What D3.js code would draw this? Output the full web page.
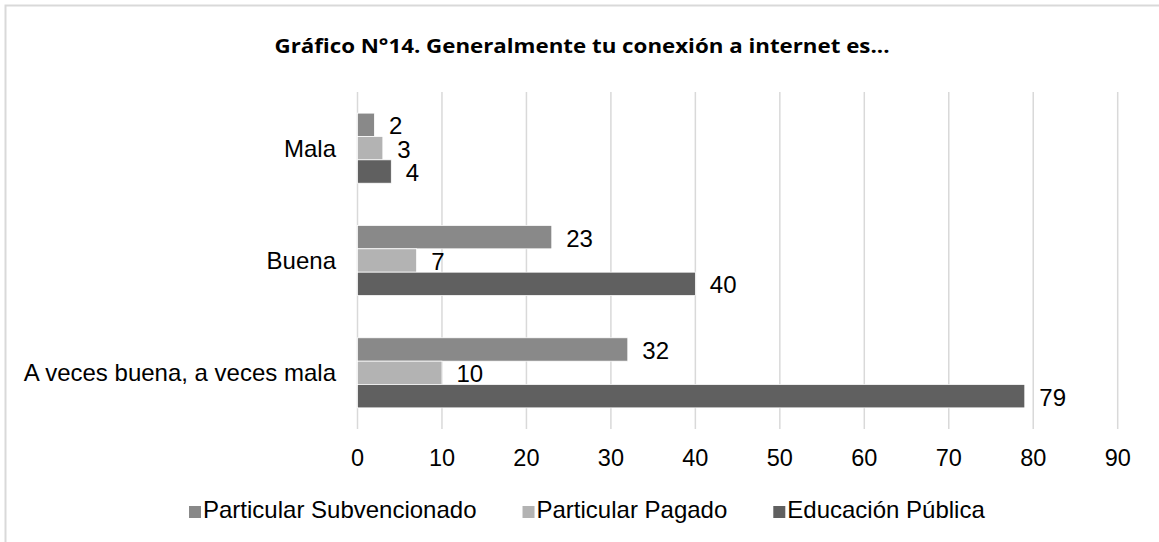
<!DOCTYPE html>
<html lang="es">
<head>
<meta charset="utf-8">
<style>
  body { margin: 0; background: #fff; }
  svg { display: block; background: #fff; font-family: 'Liberation Sans', Arial, sans-serif; }
  .grid line { stroke: #d9d9d9; stroke-width: 1.5px; }
  .lbl { font-size: 24px; fill: #000; }
  .tick { font-size: 23.5px; fill: #000; }
  .title { font-family: 'Open Sans', sans-serif; font-weight: bold; font-size: 19.5px; fill: #000; }
</style>
</head>
<body>
<svg width="1159" height="542"></svg>
<script src="https://d3js.org/d3.v7.min.js"></script>
<script>
// categories, top to bottom
const categories = ["Mala", "Buena", "A veces buena, a veces mala"];
const seriesNames = ["Particular Subvencionado", "Particular Pagado", "Educación Pública"];
const subvencionado = [2, 23, 32];
const pagado = [3, 7, 10];
const publica = [4, 40, 79];
const xTicks = [0, 10, 20, 30, 40, 50, 60, 70, 80, 90];
const colors = ["#898989", "#b3b3b3", "#606060"];

const values = [subvencionado, pagado, publica];

const svg = d3.select("svg");

// chart area border (only top and left visible)
svg.append("path")
  .attr("d", "M5.5,542 V5.5 H1159")
  .attr("fill", "none")
  .attr("stroke", "#d9d9d9")
  .attr("stroke-width", 2);

svg.append("text")
  .attr("class", "title")
  .attr("x", 582).attr("y", 53)
  .attr("text-anchor", "middle")
  .attr("textLength", 615)
  .attr("lengthAdjust", "spacingAndGlyphs")
  .text("Gráfico N°14. Generalmente tu conexión a internet es...");

const x = d3.scaleLinear().domain([0, 90]).range([357.5, 1117.7]);
const y0 = d3.scaleBand().domain(categories).range([92, 429]);
const y1 = d3.scaleBand().domain(d3.range(seriesNames.length))
  .range([0, y0.bandwidth()]).paddingInner(0).paddingOuter(0.905);

// vertical gridlines
svg.append("g").attr("class", "grid")
  .selectAll("line").data(xTicks).join("line")
  .attr("x1", d => x(d)).attr("x2", d => x(d))
  .attr("y1", 92).attr("y2", 429);

// x tick labels
svg.append("g").selectAll("text").data(xTicks).join("text")
  .attr("class", "tick")
  .attr("x", d => x(d)).attr("y", 466)
  .attr("text-anchor", "middle")
  .text(d => d);

// category labels
svg.append("g").selectAll("text").data(categories).join("text")
  .attr("class", "lbl")
  .attr("x", 336)
  .attr("y", d => y0(d) + y0.bandwidth() / 2 + 8.5)
  .attr("text-anchor", "end")
  .text(d => d);

// bars
const groups = svg.append("g").selectAll("g").data(categories).join("g")
  .attr("transform", d => `translate(0,${y0(d)})`);

const cells = (c, i) => values.map((v, s) => ({ s, v: v[i] }));

groups.selectAll("rect")
  .data(cells)
  .join("rect")
  .attr("x", x(0))
  .attr("y", d => y1(d.s))
  .attr("width", d => x(d.v) - x(0))
  .attr("height", y1.bandwidth())
  .attr("fill", d => colors[d.s])
  .attr("stroke", "#fff")
  .attr("stroke-width", 0.75);

groups.selectAll("text")
  .data(cells)
  .join("text")
  .attr("class", "lbl")
  .attr("x", d => x(d.v) + 14.5)
  .attr("y", d => y1(d.s) + y1.bandwidth() / 2 + 9.5)
  .text(d => d.v);

// legend
const legend = svg.append("g").attr("transform", "translate(189,518)");
const items = legend.selectAll("g").data(seriesNames).join("g");
items.append("rect")
  .attr("width", 12).attr("height", 12)
  .attr("y", -12)
  .attr("fill", (d, i) => colors[i]);
items.append("text")
  .attr("class", "lbl")
  .attr("x", 14).attr("y", 0)
  .text(d => d);

let lx = 0;
items.each(function() {
  d3.select(this).attr("transform", `translate(${lx},0)`);
  lx += 14 + this.querySelector("text").getComputedTextLength() + 46;
});
</script>
</body>
</html>
